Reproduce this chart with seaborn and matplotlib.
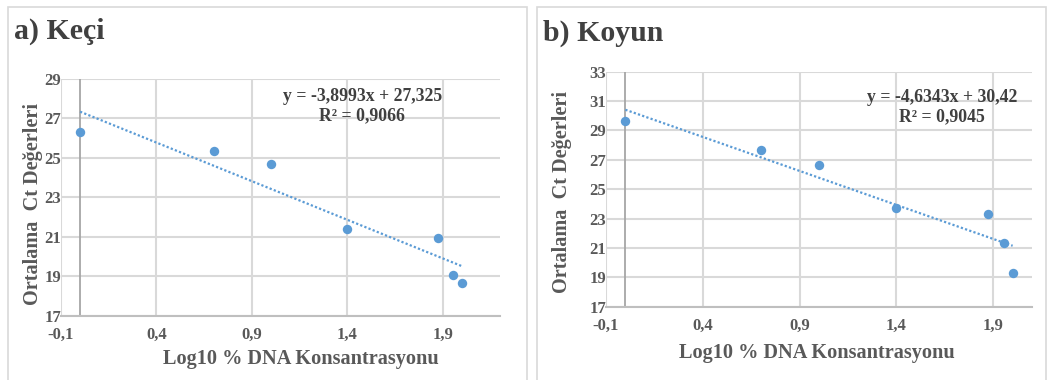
import numpy as np
import matplotlib
matplotlib.use("Agg")
import matplotlib.pyplot as plt
from matplotlib.patches import Rectangle
from matplotlib.ticker import FuncFormatter
import seaborn as sns

# --- data ---
log_conc = [0.0, 0.699, 1.0, 1.398, 1.875, 1.954, 2.0]
ct_keci = [26.31, 25.36, 24.67, 21.42, 20.96, 19.06, 18.69]
ct_koyun = [29.62, 27.66, 26.67, 23.71, 23.28, 21.33, 19.27]

titles = ["a) Keçi", "b) Koyun"]
equations = ["y = -3,8993x + 27,325\nR² = 0,9066",
             "y = -4,6343x + 30,42\nR² = 0,9045"]
x_ticks = [-0.1, 0.4, 0.9, 1.4, 1.9]
y_ticks_keci = [17, 19, 21, 23, 25, 27, 29]
y_ticks_koyun = [17, 19, 21, 23, 25, 27, 29, 31, 33]

BLUE = "#5B9BD5"
GRID = "#D9D9D9"
TXT = "#404040"
TICK = "#595959"

sns.set_style("white")
plt.rcParams['font.family'] = ['Liberation Serif', 'DejaVu Serif']
plt.rcParams['font.weight'] = 'bold'

fig = plt.figure(figsize=(10.51, 3.8), dpi=100)

# panel frames
for x0, w in [(8 / 1051, 519 / 1051), (537 / 1051, 509 / 1051)]:
    fig.patches.append(Rectangle((x0, -0.01), w, 1 - 7 / 380 + 0.01, transform=fig.transFigure,
                                 fill=False, ec=GRID, lw=1.2))

panels = [
    dict(rect=[61 / 1051, 1 - 316 / 380, 439 / 1051, 237.3 / 380], y=ct_keci, yt=y_ticks_keci,
         xmax=2.2, title_xy=(14 / 1051, 1 - 31 / 380), eq_xy=(0.686, 0.883),
         xl=(0.547, -0.181), yl=(-0.064, 0.474)),
    dict(rect=[606 / 1051, 1 - 306.7 / 380, 426 / 1051, 235 / 380], y=ct_koyun, yt=y_ticks_koyun,
         xmax=2.1, title_xy=(543 / 1051, 1 - 33 / 380), eq_xy=(0.789, 0.848),
         xl=(0.495, -0.197), yl=(-0.103, 0.49)),
]

comma = FuncFormatter(lambda v, p: f"{v:g}".replace(".", ","))

for p, title, eq in zip(panels, titles, equations):
    ax = fig.add_axes(p["rect"])
    sns.regplot(x=log_conc, y=p["y"], ax=ax, ci=None, color=BLUE,
                scatter_kws=dict(s=46, alpha=1, linewidths=0, zorder=4),
                line_kws=dict(ls=(0, (1, 1)), lw=1.6, zorder=3))
    ax.set_xlim(-0.1, p["xmax"])
    ax.set_ylim(p["yt"][0], p["yt"][-1])
    ax.set_xticks(x_ticks)
    ax.set_yticks(p["yt"])
    ax.xaxis.set_major_formatter(comma)
    ax.grid(True, color=GRID, lw=1.5)
    ax.set_axisbelow(True)
    ax.axvline(0, color="#A6A6A6", lw=1.3, zorder=1)
    for s in ["left", "right", "top"]:
        ax.spines[s].set_visible(False)
    ax.spines["bottom"].set_color("#BFBFBF")
    ax.spines["bottom"].set_linewidth(1.5)
    ax.tick_params(length=0, labelsize=12, labelcolor=TICK)
    ax.tick_params(axis="x", pad=8)
    ax.tick_params(axis="y", pad=0)
    ax.set_xlabel("Log10 % DNA Konsantrasyonu", fontsize=14.6, color=TICK, fontweight="bold", va="center")
    ax.set_ylabel("Ortalama  Ct Değerleri", fontsize=14.6, color=TICK, fontweight="bold", va="center")
    ax.xaxis.set_label_coords(*p["xl"])
    ax.yaxis.set_label_coords(*p["yl"])
    ax.text(p["eq_xy"][0], p["eq_xy"][1], eq, transform=ax.transAxes, ha="center", va="center",
            fontsize=12.8, color=TXT, fontweight="bold", linespacing=1.15)
    fig.text(p["title_xy"][0], p["title_xy"][1], title, fontsize=21.5, color=TXT,
             fontweight="bold", va="center", ha="left")

fig.savefig("out.png", dpi=100, facecolor="white")
